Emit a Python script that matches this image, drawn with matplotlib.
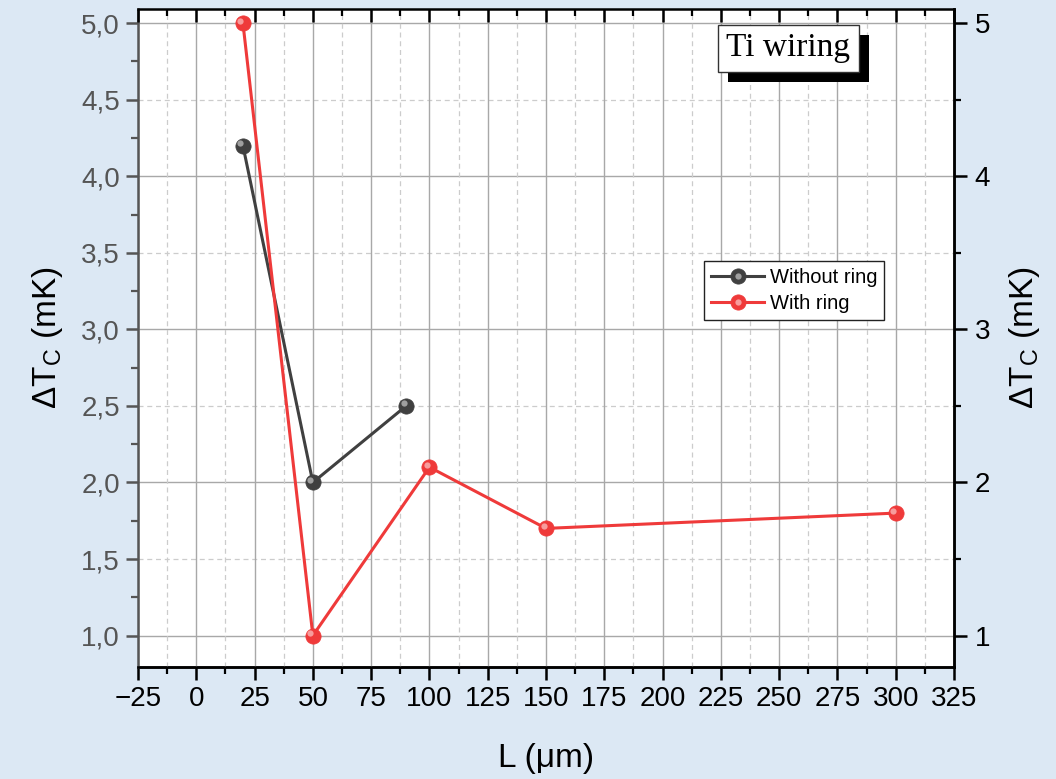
import numpy as np
import matplotlib
matplotlib.use("Agg")
import matplotlib.pyplot as plt
from matplotlib.ticker import MultipleLocator, FixedLocator
from matplotlib.transforms import offset_copy
from matplotlib.legend_handler import HandlerTuple
from matplotlib.patches import Rectangle

# data
x_without = [20, 50, 90]
y_without = [4.2, 2.0, 2.5]
x_with = [20, 50, 100, 150, 300]
y_with = [5.0, 1.0, 2.1, 1.7, 1.8]

left_ticks = [1.0, 1.5, 2.0, 2.5, 3.0, 3.5, 4.0, 4.5, 5.0]
left_labels = ["1,0", "1,5", "2,0", "2,5", "3,0", "3,5", "4,0", "4,5", "5,0"]
right_ticks = [1, 2, 3, 4, 5]

plt.rcParams['font.family'] = ['Liberation Sans', 'DejaVu Sans']
plt.rcParams['mathtext.fontset'] = 'custom'
plt.rcParams['mathtext.rm'] = 'Liberation Sans'

bg = '#dce8f4'
gray = '#404040'
red = '#ef3a3a'

fig = plt.figure(figsize=(10.56, 7.79), dpi=100, facecolor=bg)
ax = fig.add_axes([0.1307, 0.1442, 0.7727, 0.8438])
ax2 = ax.twinx()
ax.set_zorder(ax2.get_zorder() + 1)
ax.patch.set_visible(False)
ax2.patch.set_visible(True)
ax2.patch.set_facecolor('white')

ax.set_xlim(-25, 325)
ax.set_ylim(0.797, 5.09)
ax2.set_ylim(0.797, 5.09)

# x ticks / grid
ax.xaxis.set_major_locator(MultipleLocator(25))
ax.xaxis.set_minor_locator(MultipleLocator(12.5))
ax.xaxis.set_major_formatter(plt.FuncFormatter(lambda v, p: f"{int(round(v))}".replace('-', '\u2212')))
ax.grid(True, which='major', axis='x', color='#a8a8a8', lw=1.0)
ax.grid(True, which='minor', axis='x', color='#cccccc', lw=0.9, ls=(0, (4, 3)))
ax.tick_params(axis='x', which='major', direction='out', length=9, width=1.8, labelsize=20, pad=5,
               top=False, labelcolor='black')
ax.tick_params(axis='x', which='minor', direction='out', length=5, width=1.6, top=False)

# top ticks pointing inward
axt = ax.twiny()
axt.set_xlim(ax.get_xlim())
axt.xaxis.set_major_locator(MultipleLocator(25))
axt.xaxis.set_minor_locator(MultipleLocator(12.5))
axt.tick_params(axis='x', which='major', direction='in', length=9, width=1.8, labeltop=False)
axt.tick_params(axis='x', which='minor', direction='in', length=5, width=1.6)
axt.set_yticks([])
axt.patch.set_visible(False)
for s in ['left', 'right', 'bottom']:
    axt.spines[s].set_visible(False)
axt.spines['top'].set_linewidth(1.8)

# left axis
ax.yaxis.set_major_locator(FixedLocator(left_ticks))
ax.set_yticklabels(left_labels)
ax.yaxis.set_minor_locator(MultipleLocator(0.25))
ax.tick_params(axis='y', which='major', direction='out', length=9, width=1.8, labelsize=20,
               colors='#555555', pad=4)
ax.tick_params(axis='y', which='minor', direction='out', length=5, width=1.6, colors='#555555')

# right axis
ax2.yaxis.set_major_locator(FixedLocator(right_ticks))
ax2.yaxis.set_minor_locator(MultipleLocator(0.5))
ax2.grid(True, which='major', axis='y', color='#a8a8a8', lw=1.0)
ax2.grid(True, which='minor', axis='y', color='#cccccc', lw=0.9, ls=(0, (4, 3)))
ax2.tick_params(axis='y', which='major', direction='out', length=9, width=1.8, labelsize=20, pad=6)
ax2.tick_params(axis='y', which='minor', direction='out', length=5, width=1.6)

for s in ['right', 'bottom']:
    ax2.spines[s].set_linewidth(1.8)
    ax.spines[s].set_linewidth(1.8)
ax.spines['left'].set_linewidth(1.8)
ax.spines['left'].set_color('#555555')
ax2.spines['left'].set_visible(False)
ax.spines['top'].set_visible(False)
ax2.spines['top'].set_visible(False)

ax.set_xlabel('L (\u03bcm)', fontsize=24, labelpad=22)
ax.set_ylabel('\u0394T$_\\mathregular{C}$ (mK)', fontsize=24, labelpad=12)
ax2.set_ylabel('\u0394T$_\\mathregular{C}$ (mK)', fontsize=24, labelpad=12)


def sphere(xs, ys, color, label):
    line, = ax.plot(xs, ys, '-', color=color, lw=2.2, marker='o', ms=11,
                    mfc=color, mec=color, mew=0.5, label=label, zorder=3)
    hl = offset_copy(ax.transData, fig=fig, x=-1.8, y=1.8, units='points')
    glow, = ax.plot(xs, ys, 'o', ms=4.5, mfc='white', mec='none', alpha=0.5,
                    transform=hl, zorder=4)
    return line, glow


h1 = sphere(x_without, y_without, gray, 'Without ring')
h2 = sphere(x_with, y_with, red, 'With ring')

leg = ax.legend([h1, h2], ['Without ring', 'With ring'],
                handler_map={tuple: HandlerTuple(ndivide=1)},
                loc='upper left', bbox_to_anchor=(0.694, 0.617), fontsize=14.5,
                frameon=True, fancybox=False, edgecolor='#222222', framealpha=1,
                handlelength=2.6, handletextpad=0.3, borderpad=0.35, labelspacing=0.35,
                borderaxespad=0)
leg.get_frame().set_linewidth(1.0)

# Ti wiring box with drop shadow
label = ax.text(0.797, 0.941, 'Ti wiring', transform=ax.transAxes, ha='center', va='center',
                fontsize=24, family='Liberation Serif', color='black', zorder=6,
                bbox=dict(boxstyle='square,pad=0.25', fc='white', ec='#333333', lw=1))
fig.canvas.draw()
bb = label.get_bbox_patch().get_window_extent()
shadow = Rectangle((bb.x0 + 10, bb.y0 - 10), bb.width, bb.height, transform=None,
                   fc='black', ec='none', zorder=5)
ax.add_artist(shadow)

fig.savefig('out.png', dpi=100, facecolor=bg)
